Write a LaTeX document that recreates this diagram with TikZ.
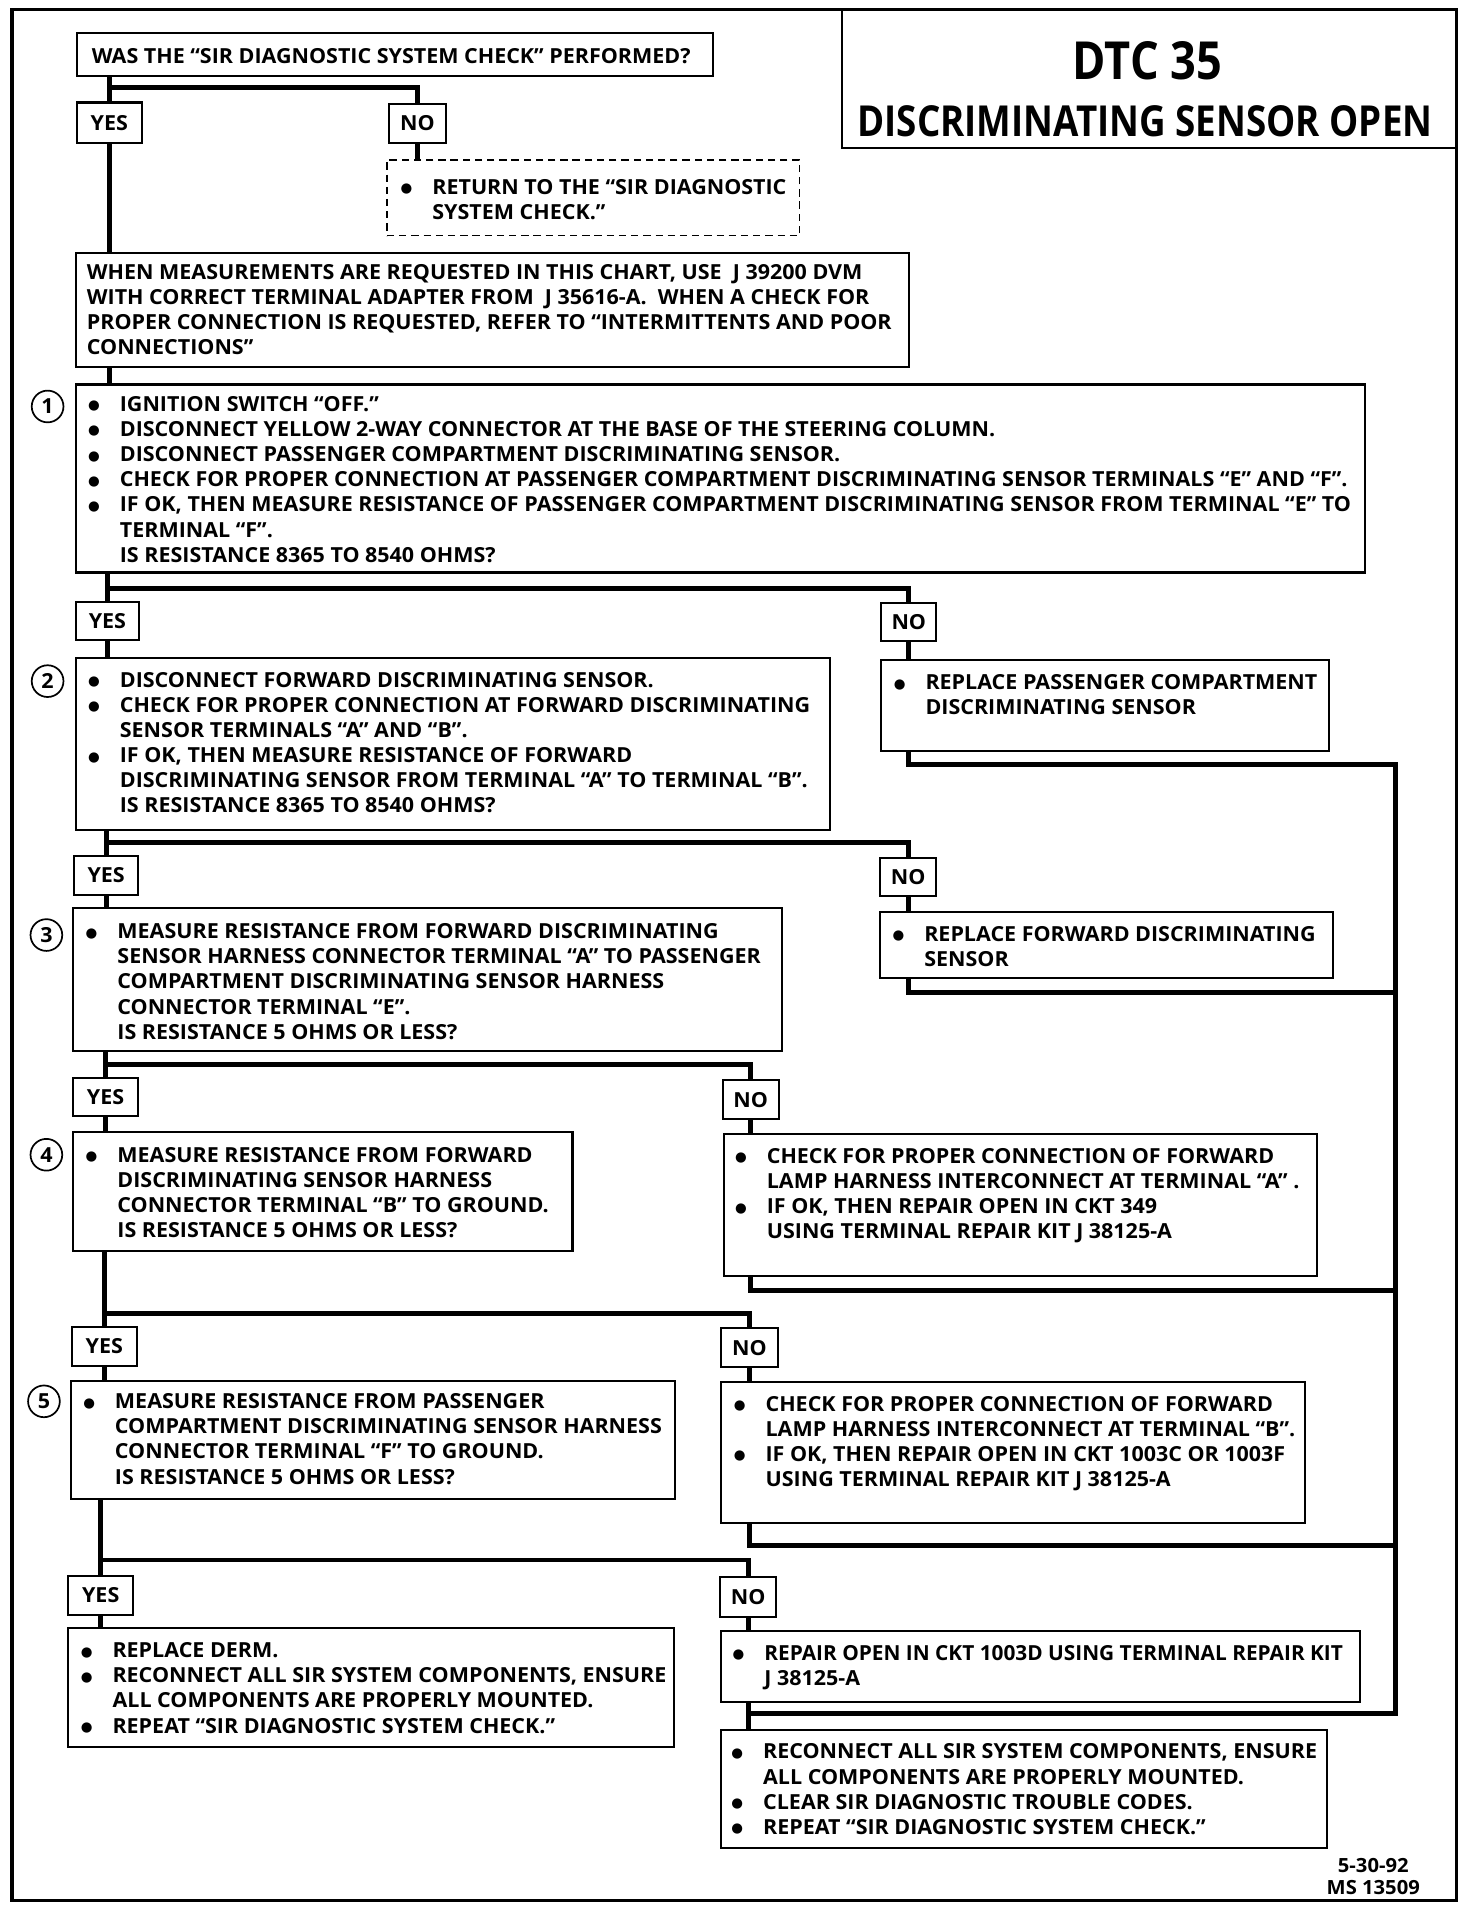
\documentclass[tikz,border=0pt]{standalone}
\usepackage{fontspec}
\setmainfont{Open Sans}[FakeStretch=1.035]
\newfontfamily\titlefont{Open Sans}[FakeStretch=0.86]
\newfontfamily\symfont{DejaVu Sans}
\usetikzlibrary{calc}
\newcommand\txtfont{\fontsize{17}{20.6}\selectfont\bfseries}
\newcommand\bul{\raisebox{1.3pt}{\fontsize{11}{11}\symfont ●}}
\newlength\bw \setlength\bw{26pt}
\newcommand\bitem[1]{\hbox{\makebox[\bw][l]{\bul}#1}}
\newcommand\citem[1]{\hbox{\hspace*{\bw}#1}}
\newcommand\pitem[1]{\hbox{#1}}
\newcommand\tlines[1]{\vtop{\baselineskip=20.6pt\lineskiplimit=-30pt\lineskip=0pt #1}}
% \boxnode{style}{name}{x1}{y1}{x2}{y2}{text};
\newcommand\boxnode[6]{\node[#1, minimum width={(#5)-(#3)}, minimum height={(#6)-(#4)}] (#2) at ({((#3)+(#5))/2},{((#4)+(#6))/2})}
\begin{document}
\begin{tikzpicture}[x=1pt,y=-1pt,
  bx/.style={draw, line width=1.7pt, inner sep=0pt, rectangle},
  lbl/.style={draw, line width=1.7pt, inner sep=0pt, rectangle, font=\txtfont},
  txt/.style={anchor=base west, inner sep=0pt, font=\txtfont},
  conn/.style={line width=4pt},
  circ/.style={draw, circle, line width=1.4pt, minimum size=26pt, inner sep=0pt, font=\txtfont}]
\useasboundingbox (0,0) rectangle (1206,1568);
\fill[white] (0,0) rectangle (1206,1568);
% outer frame
\draw[line width=2.8pt] (10,8) rectangle (1193,1557);
% title
\boxnode{bx}{title}{690}{8}{1193}{121} {};
\node[anchor=base, inner sep=0pt, font=\fontsize{43}{43}\selectfont\titlefont\bfseries] (dtc) at (940,65) {DTC 35};
\node[anchor=base, inner sep=0pt, font=\fontsize{35}{35}\selectfont\titlefont\bfseries] (sub) at (938,112) {DISCRIMINATING SENSOR OPEN};

% junction rows
\coordinate (h0) at (0,72);
\coordinate (h1) at (0,482);
\coordinate (h2) at (0,690);
\coordinate (h3) at (0,872);
\coordinate (h4) at (0,1076);
\coordinate (h5) at (0,1278);
\coordinate (cr1) at (1143,626);
\coordinate (cr2) at (1143,813);
\coordinate (cr3) at (1143,1057);
\coordinate (cr4) at (1143,1266);
\coordinate (cr5) at (1143,1404);

% question
\boxnode{bx}{q0}{63}{27}{584}{62} {};
\node[txt] (q0t) at (75,52) {WAS THE “SIR DIAGNOSTIC SYSTEM CHECK” PERFORMED?};
\boxnode{lbl}{y1}{63}{84}{116}{117} {YES};
\boxnode{lbl}{n0}{319}{85}{365}{117} {NO};
\boxnode{bx, dashed, dash pattern=on 6pt off 4pt, line width=1.4pt}{d0}{317}{131}{655}{193} {};
\node[txt] (d0t) at (328,159) {\tlines{\bitem{RETURN TO THE “SIR DIAGNOSTIC}\citem{SYSTEM CHECK.”}}};

% measurement note
\boxnode{bx}{m0}{62}{207}{745}{301} {};
\node[txt] (m0t) at (71,229) {\tlines{%
\pitem{WHEN MEASUREMENTS ARE REQUESTED IN THIS CHART, USE\ \ J 39200 DVM}%
\pitem{WITH CORRECT TERMINAL ADAPTER FROM\ \ J 35616-A.\ \ WHEN A CHECK FOR}%
\pitem{PROPER CONNECTION IS REQUESTED, REFER TO “INTERMITTENTS AND POOR}%
\pitem{CONNECTIONS”}}};

% step 1
\boxnode{bx}{b1}{62}{315}{1118}{469} {};
\node[circ] (c1) at (39,333) {1};
\node[txt] (b1t) at (72,337) {\tlines{%
\bitem{IGNITION SWITCH “OFF.”}%
\bitem{DISCONNECT YELLOW 2-WAY CONNECTOR AT THE BASE OF THE STEERING COLUMN.}%
\bitem{DISCONNECT PASSENGER COMPARTMENT DISCRIMINATING SENSOR.}%
\bitem{CHECK FOR PROPER CONNECTION AT PASSENGER COMPARTMENT DISCRIMINATING SENSOR TERMINALS “E” AND “F”.}%
\bitem{IF OK, THEN MEASURE RESISTANCE OF PASSENGER COMPARTMENT DISCRIMINATING SENSOR FROM TERMINAL “E” TO}%
\citem{TERMINAL “F”.}%
\citem{IS RESISTANCE 8365 TO 8540 OHMS?}}};
\boxnode{lbl}{y2}{62}{493}{114}{524} {YES};
\boxnode{lbl}{n1}{722}{494}{767}{525} {NO};

% step 2
\boxnode{bx}{b2}{62}{539}{680}{680} {};
\node[circ] (c2) at (39,558) {2};
\node[txt] (b2t) at (72,563) {\tlines{%
\bitem{DISCONNECT FORWARD DISCRIMINATING SENSOR.}%
\bitem{CHECK FOR PROPER CONNECTION AT FORWARD DISCRIMINATING}%
\citem{SENSOR TERMINALS “A” AND “B”.}%
\bitem{IF OK, THEN MEASURE RESISTANCE OF FORWARD}%
\citem{DISCRIMINATING SENSOR FROM TERMINAL “A” TO TERMINAL “B”.}%
\citem{IS RESISTANCE 8365 TO 8540 OHMS?}}};
\boxnode{bx}{r1}{722}{541}{1089}{615} {};
\node[txt] (r1t) at (732,565) {\tlines{%
\bitem{REPLACE PASSENGER COMPARTMENT}%
\citem{DISCRIMINATING SENSOR}}};
\boxnode{lbl}{y3}{61}{701}{113}{733} {YES};
\boxnode{lbl}{n2}{721}{703}{767}{734} {NO};

% step 3
\boxnode{bx}{b3}{60}{744}{641}{861} {};
\node[circ] (c3) at (38,766) {3};
\node[txt] (b3t) at (70,769) {\tlines{%
\bitem{MEASURE RESISTANCE FROM FORWARD DISCRIMINATING}%
\citem{SENSOR HARNESS CONNECTOR TERMINAL “A” TO PASSENGER}%
\citem{COMPARTMENT DISCRIMINATING SENSOR HARNESS}%
\citem{CONNECTOR TERMINAL “E”.}%
\citem{IS RESISTANCE 5 OHMS OR LESS?}}};
\boxnode{bx}{r2}{721}{747}{1092}{801} {};
\node[txt] (r2t) at (731,771) {\tlines{%
\bitem{REPLACE FORWARD DISCRIMINATING}%
\citem{SENSOR}}};
\boxnode{lbl}{y4}{60}{883}{113}{914} {YES};
\boxnode{lbl}{n3}{592}{885}{638}{917} {NO};

% step 4
\boxnode{bx}{b4}{60}{927}{469}{1025} {};
\node[circ] (c4) at (38,946) {4};
\node[txt] (b4t) at (70,952) {\tlines{%
\bitem{MEASURE RESISTANCE FROM FORWARD}%
\citem{DISCRIMINATING SENSOR HARNESS}%
\citem{CONNECTOR TERMINAL “B” TO GROUND.}%
\citem{IS RESISTANCE 5 OHMS OR LESS?}}};
\boxnode{bx}{r3}{593}{929}{1079}{1045} {};
\node[txt] (r3t) at (602,953) {\tlines{%
\bitem{CHECK FOR PROPER CONNECTION OF FORWARD}%
\citem{LAMP HARNESS INTERCONNECT AT TERMINAL “A” .}%
\bitem{IF OK, THEN REPAIR OPEN IN CKT 349}%
\citem{USING TERMINAL REPAIR KIT J 38125-A}}};
\boxnode{lbl}{y5}{59}{1087}{112}{1119} {YES};
\boxnode{lbl}{n4}{591}{1088}{637}{1120} {NO};

% step 5
\boxnode{bx}{b5}{58}{1131}{553}{1228} {};
\node[circ] (c5) at (36,1148) {5};
\node[txt] (b5t) at (68,1154) {\tlines{%
\bitem{MEASURE RESISTANCE FROM PASSENGER}%
\citem{COMPARTMENT DISCRIMINATING SENSOR HARNESS}%
\citem{CONNECTOR TERMINAL “F” TO GROUND.}%
\citem{IS RESISTANCE 5 OHMS OR LESS?}}};
\boxnode{bx}{r4}{591}{1132}{1069}{1248} {};
\node[txt] (r4t) at (601,1156) {\tlines{%
\bitem{CHECK FOR PROPER CONNECTION OF FORWARD}%
\citem{LAMP HARNESS INTERCONNECT AT TERMINAL “B”.}%
\bitem{IF OK, THEN REPAIR OPEN IN CKT 1003C OR 1003F}%
\citem{USING TERMINAL REPAIR KIT J 38125-A}}};
\boxnode{lbl}{y6}{56}{1291}{109}{1323} {YES};
\boxnode{lbl}{n5}{590}{1292}{636}{1325} {NO};

% final results
\boxnode{bx}{r6}{56}{1334}{552}{1431} {};
\node[txt] (r6t) at (66,1358) {\tlines{%
\bitem{REPLACE DERM.}%
\bitem{RECONNECT ALL SIR SYSTEM COMPONENTS, ENSURE}%
\citem{ALL COMPONENTS ARE PROPERLY MOUNTED.}%
\bitem{REPEAT “SIR DIAGNOSTIC SYSTEM CHECK.”}}};
\boxnode{bx}{r5}{591}{1336}{1114}{1394} {};
\node[txt] (r5t) at (600,1360) {\tlines{%
\bitem{\scalebox{0.97}[1]{REPAIR OPEN IN CKT 1003D USING TERMINAL REPAIR KIT}}%
\citem{J 38125-A}}};
\boxnode{bx}{fin}{591}{1417}{1087}{1514} {};
\node[txt] (fint) at (599,1441) {\tlines{%
\bitem{RECONNECT ALL SIR SYSTEM COMPONENTS, ENSURE}%
\citem{ALL COMPONENTS ARE PROPERLY MOUNTED.}%
\bitem{CLEAR SIR DIAGNOSTIC TROUBLE CODES.}%
\bitem{REPEAT “SIR DIAGNOSTIC SYSTEM CHECK.”}}};

\node[align=center, inner sep=0pt, font=\fontsize{16}{18}\selectfont\bfseries] (foot) at (1125,1537) {5-30-92\\MS 13509};

% connectors
\draw[conn] (q0.south -| y1.north) -- (y1.north);
\draw[conn] (y1.north |- h0) -| (n0.north);
\draw[conn] (n0.south) -- (n0.south |- d0.north);
\draw[conn] (y1.south) -- (y1.south |- m0.north);
\draw[conn] (y1.south |- m0.south) -- (y1.south |- b1.north);

\draw[conn] (b1.south -| y2.north) -- (y2.north);
\draw[conn] (y2.north |- h1) -| (n1.north);
\draw[conn] (y2.south) -- (y2.south |- b2.north);
\draw[conn] (n1.south) -- (n1.south |- r1.north);

\draw[conn] (b2.south -| y3.north) -- (y3.north);
\draw[conn] (y3.north |- h2) -| (n2.north);
\draw[conn] (y3.south) -- (y3.south |- b3.north);
\draw[conn] (n2.south) -- (n2.south |- r2.north);

\draw[conn] (b3.south -| y4.north) -- (y4.north);
\draw[conn] (y4.north |- h3) -| (n3.north);
\draw[conn] (y4.south) -- (y4.south |- b4.north);
\draw[conn] (n3.south) -- (n3.south |- r3.north);

\draw[conn] (b4.south -| y5.north) -- (y5.north);
\draw[conn] (y5.north |- h4) -| (n4.north);
\draw[conn] (y5.south) -- (y5.south |- b5.north);
\draw[conn] (n4.south) -- (n4.south |- r4.north);

\draw[conn] (b5.south -| y6.north) -- (y6.north);
\draw[conn] (y6.north |- h5) -| (n5.north);
\draw[conn] (y6.south) -- (y6.south |- r6.north);
\draw[conn] (n5.south) -- (n5.south |- r5.north);
\draw[conn] (n5.south |- r5.south) -- (n5.south |- fin.north);

% right-hand collector
\draw[conn] (n1.south |- r1.south) |- (cr1) -- (cr5) -- (n5.south |- cr5);
\draw[conn] (n2.south |- r2.south) |- (cr2);
\draw[conn] (n3.south |- r3.south) |- (cr3);
\draw[conn] (n4.south |- r4.south) |- (cr4);
\end{tikzpicture}
\end{document}
